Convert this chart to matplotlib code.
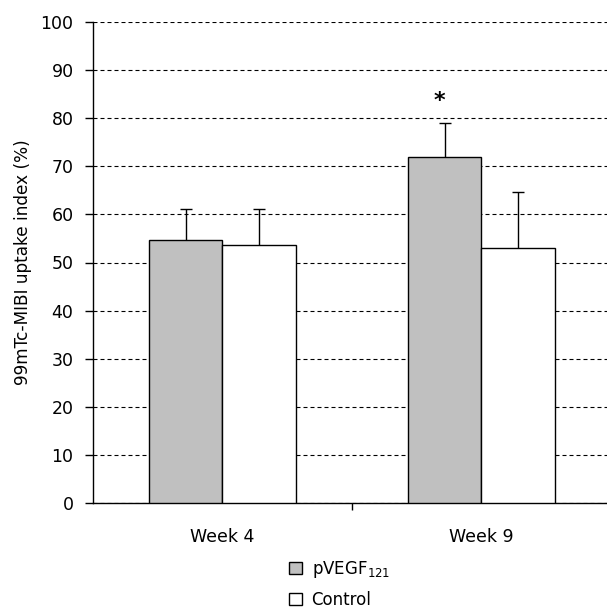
import matplotlib
matplotlib.use('Agg')
import matplotlib.pyplot as plt
from matplotlib.patches import Patch
import numpy as np

# Values
weeks = ['Week 4', 'Week 9']
vegf_mean = [54.6, 71.9]
vegf_err = [6.6, 7.0]
control_mean = [53.6, 53.0]
control_err = [7.6, 11.7]
y_ticks = [0, 10, 20, 30, 40, 50, 60, 70, 80, 90, 100]

plt.rcParams['font.family'] = 'DejaVu Sans'

fig = plt.figure(figsize=(6.07, 6.12), dpi=100)
ax = fig.add_axes([93/607, 1 - 503/612, 518/607, 481/612])

x = np.arange(len(weeks))
bw = 0.282
ax.bar(x - bw/2, vegf_mean, bw, color='#c0c0c0', edgecolor='black', linewidth=1.0, zorder=3)
ax.bar(x + bw/2, control_mean, bw, color='white', edgecolor='black', linewidth=1.0, zorder=3)

# upward-only error bars, lower caps hidden
for xs, m, e in [(x - bw/2, vegf_mean, vegf_err), (x + bw/2, control_mean, control_err)]:
    eb = ax.errorbar(xs, m, yerr=[np.zeros(2), e], fmt='none', ecolor='black',
                     elinewidth=1.0, capsize=4, capthick=1.0, zorder=2)
    eb[1][0].set_visible(False)

# significance marker over the week 9 pVEGF bar
ax.text(x[1] - bw/2 - 0.02, vegf_mean[1] + vegf_err[1] + 2.5, '*', ha='center', va='bottom',
        fontsize=16, fontweight='bold')

ax.set_xlim(-0.5, 1.5)
ax.set_ylim(0, 100)
ax.set_yticks(y_ticks)
ax.yaxis.grid(True, color='black', linestyle=(0, (3.6, 2.7)), linewidth=0.8, zorder=0)
ax.set_axisbelow(True)

ax.set_xticks(x)
ax.set_xticklabels(weeks, fontsize=12.5)
ax.set_xticks([0.5], minor=True)
ax.tick_params(axis='x', which='major', length=0, pad=18)
ax.tick_params(axis='x', which='minor', length=5, width=1.0, direction='out')
ax.tick_params(axis='y', length=6, width=1.0, direction='out', pad=8, labelsize=12.5)

for s in ['top', 'right']:
    ax.spines[s].set_visible(False)
ax.spines['left'].set_linewidth(1.0)
ax.spines['bottom'].set_linewidth(1.0)

ax.set_ylabel('99mTc-MIBI uptake index (%)', fontsize=12.2)
ax.yaxis.set_label_coords(-0.118, 0.5)

handles = [Patch(facecolor='#c0c0c0', edgecolor='black', linewidth=1.0),
           Patch(facecolor='white', edgecolor='black', linewidth=1.0)]
fig.legend(handles, [r'pVEGF$_{\mathregular{121}}$', 'Control'],
           loc='upper left', bbox_to_anchor=(289/607, 1 - 559/612),
           frameon=False, fontsize=12, handlelength=0.75, handleheight=0.75,
           handletextpad=0.6, labelspacing=0.65, borderpad=0, borderaxespad=0)

fig.savefig('out.png', dpi=100)
